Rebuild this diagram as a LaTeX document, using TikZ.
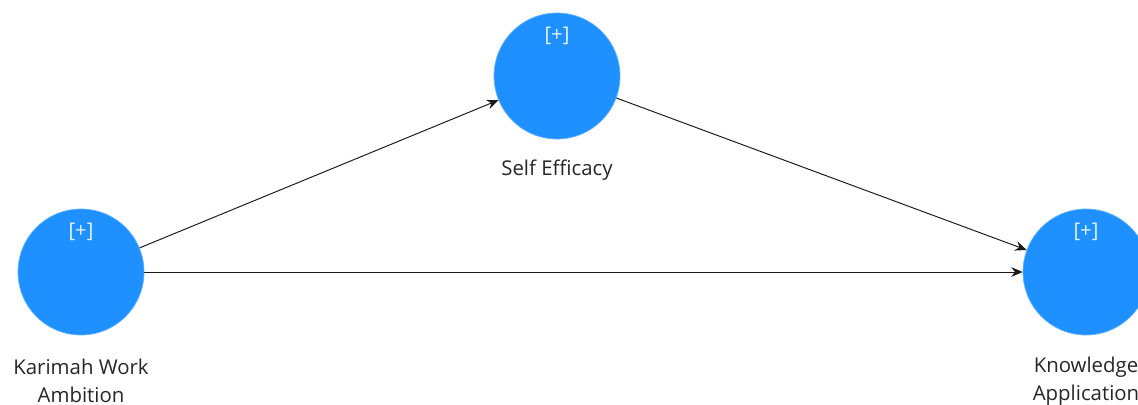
\documentclass[tikz,border=0pt]{standalone}
\usepackage{fontspec}
\setmainfont{Open Sans}
\usetikzlibrary{arrows.meta}
\definecolor{latentblue}{RGB}{30,144,255}
\tikzset{
  latent/.style={circle,fill=latentblue,draw=latentblue!70!white,line width=0.4pt,minimum size=2.52cm,inner sep=0pt},
  plus/.style={text=white!88!latentblue,font=\fontsize{11.5}{12}\selectfont},
  caption/.style={align=center,text=black!85,font=\fontsize{11.6}{15.9}\selectfont},
  path/.style={draw=black!90,line width=0.55pt,-{Stealth[length=6.5pt,width=5.5pt]}}
}
\begin{document}
\begin{tikzpicture}[x=0.02cm,y=-0.02cm]
        \useasboundingbox (0,0) rectangle (1138,405);
        \node [latent] (kwa) at (81,272) {};
        \node [latent] (se) at (557,76) {};
        \node [latent] (ka) at (1086,272) {};

        \foreach \foo in {kwa,se,ka}
        \node [plus] (\foo-plus) at ([yshift=0.8cm]\foo) {[+]};

        \node [caption] (kwa-label) at (81,381) {Karimah Work\\Ambition};
        \node [caption] (se-label) at (557,170) {Self Efficacy};
        \node [caption] (ka-label) at (1086,381) {Knowledge\\Application};

        \draw [path] (kwa) to (se);
        \draw [path] (se) to (ka);
        \draw [path] (kwa) to (ka);
      \end{tikzpicture}
\end{document}
